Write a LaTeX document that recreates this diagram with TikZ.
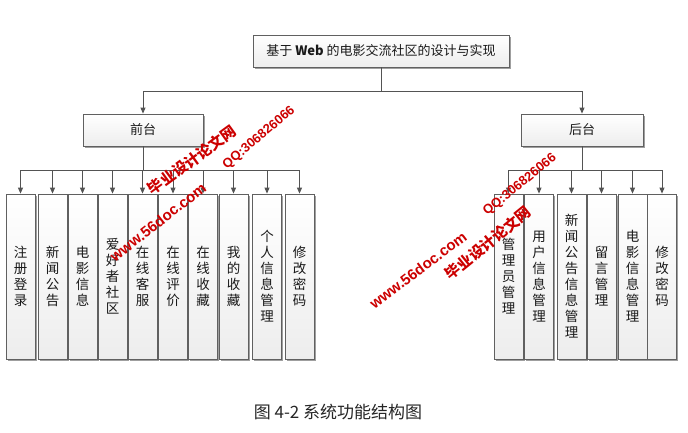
\documentclass[tikz,border=0pt]{standalone}
\usepackage{fontspec}
\setmainfont{Noto Sans CJK SC}
\newfontfamily\wmfont{Liberation Sans}
\usetikzlibrary{arrows.meta,shadows}
\tikzset{
  box/.style={draw=gray!75!black, line width=0.8pt, top color=white, bottom color=gray!14,
    drop shadow={shadow xshift=1.5pt, shadow yshift=-1.5pt, fill=gray!75, opacity=1},
    inner sep=0pt, font=\fontsize{13}{15}\selectfont, text=black!90},
  leaf/.style={box, minimum width=29pt, minimum height=165pt, align=center,
    font=\fontsize{13.5}{16}\selectfont},
  conn/.style={draw=gray!65!black, line width=0.9pt},
  arr/.style={conn, -{Triangle[width=5pt,length=6pt]}},
  wm/.style={text=red!80!black, font=\wmfont\bfseries\fontsize{13}{13}\selectfont, inner sep=0pt},
  wmcn/.style={text=red!80!black, font=\bfseries\fontsize{15}{15}\selectfont, inner sep=0pt}
}
\begin{document}
\begin{tikzpicture}[x=1pt,y=-1pt]
\useasboundingbox[fill=white] (0,0) rectangle (688,432);
% main nodes
\node[box, minimum width=256pt, minimum height=32pt] (top) at (381,51) {基于 {\bfseries Web} 的电影交流社区的设计与实现};
\node[box, minimum width=120pt, minimum height=32pt] (qt) at (143,130) {前台};
\node[box, minimum width=122pt, minimum height=32pt] (ht) at (582,130) {后台};
% front leaves
\node[leaf] (f1) at (20.5,276.5) {注\\册\\登\\录};
\node[leaf] (f2) at (52.5,276.5) {新\\闻\\公\\告};
\node[leaf] (f3) at (82.5,276.5) {电\\影\\信\\息};
\node[leaf] (f4) at (112.5,276.5) {爱\\好\\者\\社\\区};
\node[leaf] (f5) at (142.5,276.5) {在\\线\\客\\服};
\node[leaf] (f6) at (173,276.5) {在\\线\\评\\价};
\node[leaf] (f7) at (203,276.5) {在\\线\\收\\藏};
\node[leaf] (f8) at (233.5,276.5) {我\\的\\收\\藏};
\node[leaf] (f9) at (267,276.5) {个\\人\\信\\息\\管\\理};
\node[leaf] (f10) at (299.5,276.5) {修\\改\\密\\码};
% back leaves
\node[leaf] (b1) at (508.5,276.5) {管\\理\\员\\管\\理};
\node[leaf] (b2) at (539,276.5) {用\\户\\信\\息\\管\\理};
\node[leaf] (b3) at (571.5,276.5) {新\\闻\\公\\告\\信\\息\\管\\理};
\node[leaf] (b4) at (601.5,276.5) {留\\言\\管\\理};
\node[leaf] (b5) at (632.5,276.5) {电\\影\\信\\息\\管\\理};
\node[leaf] (b6) at (662,276.5) {修\\改\\密\\码};
% buses
\coordinate (tbus) at (381,91);
\coordinate (fbus) at (143,170);
\coordinate (bbus) at (582,170);
\draw[conn] (top.south) -- (tbus);
\draw[arr] (tbus) -| (qt.north);
\draw[arr] (tbus) -| (ht.north);
\draw[conn] (qt.south) -- (fbus);
\draw[conn] (ht.south) -- (bbus);
\foreach \n in {f1,f2,f3,f4,f5,f6,f7,f8,f9,f10}
  \draw[arr] (fbus) -| (\n.north);
\foreach \n in {b1,b2,b3,b4,b5,b6}
  \draw[arr] (bbus) -| (\n.north);
% caption
\node[font=\fontsize{17}{19}\selectfont, text=black!85] (cap) at (338,412) {图 4-2 系统功能结构图};
% watermarks
\node[wmcn, rotate=36] (w1) at (192,160) {毕业设计论文网};
\node[wm, rotate=40] (w2) at (259,138) {QQ:306826066};
\node[wm, rotate=38, font=\wmfont\bfseries\fontsize{15}{15}\selectfont] (w3) at (158,222) {www.56doc.com};
\node[wm, rotate=39] (w4) at (520,185) {QQ:306826066};
\node[wmcn, rotate=39] (w5) at (488,243) {毕业设计论文网};
\node[wm, rotate=37, font=\wmfont\bfseries\fontsize{15}{15}\selectfont] (w6) at (418,270) {www.56doc.com};
\end{tikzpicture}
\end{document}
